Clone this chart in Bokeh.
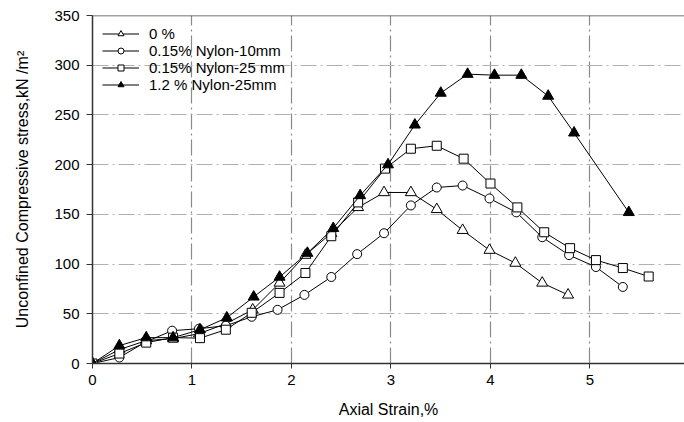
from bokeh.plotting import figure
from bokeh.models import Range1d, Span, FixedTicker
from bokeh.embed import file_html
from bokeh.resources import INLINE

# ---- data ----
labels = ["0 %", "0.15% Nylon-10mm", "0.15% Nylon-25 mm", "1.2 % Nylon-25mm"]

x_0 = [0, 0.27, 0.54, 0.81, 1.07, 1.34, 1.61, 1.88, 2.14, 2.40, 2.67, 2.93, 3.20, 3.46, 3.72, 3.99, 4.25, 4.52, 4.78]
y_0 = [0, 14, 23, 25, 30, 40, 54, 81, 109, 131, 157, 172, 172, 155, 134, 114, 101, 81, 69]

x_n10 = [0, 0.27, 0.54, 0.80, 1.07, 1.34, 1.60, 1.86, 2.13, 2.40, 2.66, 2.93, 3.20, 3.46, 3.72, 3.99, 4.26, 4.52, 4.79, 5.06, 5.33]
y_n10 = [0, 6, 22, 33, 35, 38, 47, 54, 69, 87, 110, 131, 159, 177, 179, 166, 152, 127, 109, 97, 77]

x_n25 = [0, 0.27, 0.54, 0.81, 1.08, 1.34, 1.60, 1.88, 2.14, 2.40, 2.67, 2.94, 3.20, 3.46, 3.73, 4.00, 4.27, 4.54, 4.80, 5.06, 5.33, 5.59]
y_n25 = [0, 10, 21, 26, 25.5, 34, 51, 71, 91, 128, 162, 196, 216, 219, 206, 181, 157, 132, 116, 104, 96, 87.5]

x_12 = [0, 0.27, 0.54, 0.81, 1.08, 1.35, 1.62, 1.88, 2.16, 2.42, 2.69, 2.97, 3.24, 3.50, 3.77, 4.04, 4.31, 4.58, 4.84, 5.39]
y_12 = [0, 18, 26, 26, 34, 46, 67, 87, 111, 136, 169, 200, 240, 272, 291, 290, 290, 269, 232, 152]

x_ticks = [0, 1, 2, 3, 4, 5]
y_ticks = [0, 50, 100, 150, 200, 250, 300, 350]

FONT = "Liberation Sans"

p = figure(width=684, height=422, output_backend="svg", toolbar_location=None,
           x_range=Range1d(0, 5.95), y_range=Range1d(0, 350),
           min_border_left=92, min_border_right=0, min_border_top=15, min_border_bottom=59)
p.outline_line_color = None
p.background_fill_color = "white"
p.border_fill_color = "white"

# top frame line
p.add_layout(Span(location=350, dimension="width", line_color="#444444", line_width=1.5))

# axes
for ax in (p.xaxis[0], p.yaxis[0]):
    ax.axis_line_color = "#333333"
    ax.axis_line_width = 1.5
    ax.major_tick_line_color = "#333333"
    ax.major_tick_in = 0
    ax.minor_tick_line_color = None
    ax.major_label_text_font = FONT
    ax.major_label_text_font_size = "15px"
    ax.major_label_text_color = "black"
    ax.axis_label_text_font = FONT
    ax.axis_label_text_font_size = "16px"
    ax.axis_label_text_font_style = "normal"
    ax.axis_label_text_color = "black"

p.xaxis.ticker = FixedTicker(ticks=x_ticks)
p.yaxis.ticker = FixedTicker(ticks=y_ticks)
p.xaxis.major_tick_out = 5
p.yaxis.major_tick_out = 6
p.xaxis.major_label_standoff = 6
p.yaxis.major_label_standoff = 7
p.xaxis.axis_label = "Axial Strain,%"
p.yaxis.axis_label = "Unconfined Compressive stress,kN /m²"
p.xaxis.axis_label_standoff = 13
p.yaxis.axis_label_standoff = 20

# grid
p.xgrid.ticker = FixedTicker(ticks=[1, 2, 3, 4, 5])
p.ygrid.ticker = FixedTicker(ticks=[50, 100, 150, 200, 250, 300])
p.xgrid.grid_line_color = "#8a8a8a"
p.ygrid.grid_line_color = "#b0b0b0"
p.xgrid.grid_line_dash = "16 4 2 4"
p.ygrid.grid_line_dash = "16 4 2 4"
p.xgrid.grid_line_width = 1.2
p.ygrid.grid_line_width = 1.2

series = [
    (x_0, y_0, "triangle", "white", 11),
    (x_n10, y_n10, "circle", "white", 9),
    (x_n25, y_n25, "square", "white", 9),
    (x_12, y_12, "triangle", "black", 11),
]
for (xs, ys, mk, fill, sz), lab in zip(series, labels):
    p.line(xs, ys, line_color="black", line_width=1, legend_label=lab)
    p.scatter(xs, ys, marker=mk, size=sz, fill_color=fill, line_color="black",
              line_width=1, legend_label=lab)

lg = p.legend[0]
lg.location = "top_left"
lg.margin = 10
lg.padding = 11
lg.spacing = 0
lg.border_line_color = None
lg.background_fill_alpha = 0
lg.glyph_width = 37
lg.glyph_height = 15
lg.label_height = 15
lg.label_standoff = 10
lg.label_text_font = FONT
lg.label_text_font_size = "15px"
lg.label_text_color = "black"

open("out.html", "w").write(file_html(p, INLINE))
